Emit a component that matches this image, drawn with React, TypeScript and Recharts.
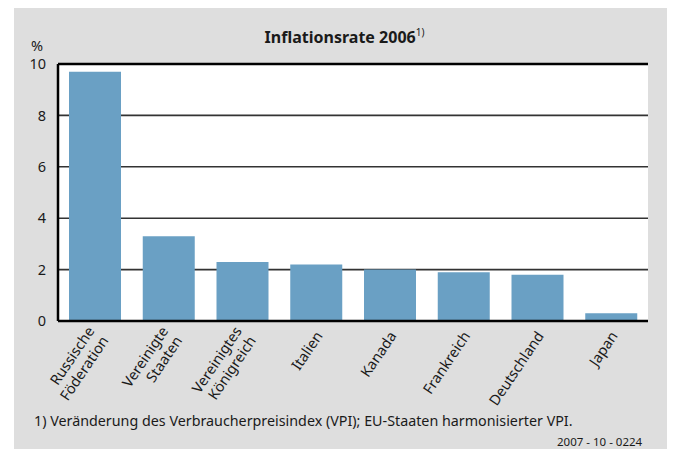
import React from "react";
import { BarChart, Bar, XAxis, YAxis, CartesianGrid, ReferenceLine } from "recharts";

const categories = [
  "Russische\nFöderation",
  "Vereinigte\nStaaten",
  "Vereinigtes\nKönigreich",
  "Italien",
  "Kanada",
  "Frankreich",
  "Deutschland",
  "Japan",
];
const inflation = [9.7, 3.3, 2.3, 2.2, 2.0, 1.9, 1.8, 0.3];
const yTicks = [0, 2, 4, 6, 8, 10];

const data = categories.map((c, i) => ({ name: c, value: inflation[i] }));

const FONT = "'Noto Sans', 'Open Sans', sans-serif";

const XTick = (props: any) => {
  const { x, y, payload } = props;
  const lines: string[] = String(payload.value).split("\n");
  const lh = 17;
  return (
    <g transform={`translate(${x + 3},${y + 4})`}>
      <text
        transform="rotate(-56)"
        textAnchor="end"
        fontSize={14.5}
        fontFamily={FONT}
        fill="#1a1a1a"
      >
        {lines.map((l, i) => (
          <tspan key={i} x={0} y={(i - (lines.length - 1) / 2) * lh + 5}>
            {l}
          </tspan>
        ))}
      </text>
    </g>
  );
};

export default function App() {
  return (
    <div
      style={{
        position: "relative",
        width: 675,
        height: 449,
        marginLeft: -8,
        marginTop: -8,
        background: "#ffffff",
        fontFamily: FONT,
        overflow: "hidden",
      }}
    >
      <div
        style={{
          position: "absolute",
          left: 14,
          top: 8,
          width: 661,
          height: 441,
          background: "#dedede",
        }}
      />
      <div
        style={{
          position: "absolute",
          left: 14,
          width: 661,
          top: 26,
          textAlign: "center",
          fontSize: 16,
          fontWeight: 700,
          color: "#1a1a1a",
        }}
      >
        Inflationsrate 2006
        <sup style={{ fontSize: 10, fontWeight: 400, verticalAlign: "top", position: "relative", top: -1 }}>1)</sup>
      </div>
      <div style={{ position: "absolute", left: 31, top: 38, fontSize: 14.5, lineHeight: 1, color: "#1a1a1a" }}>%</div>
      <div style={{ position: "absolute", left: 0, top: 0 }}>
        <BarChart
          width={675}
          height={449}
          data={data}
          margin={{ top: 64, right: 27, bottom: 48, left: 18 }}
        >
          <CartesianGrid
            horizontal={true}
            vertical={false}
            stroke="#333333"
            strokeWidth={1.6}
            fill="#ffffff"
            fillOpacity={1}
          />
          <XAxis
            dataKey="name"
            interval={0}
            height={80}
            tickLine={false}
            axisLine={{ stroke: "#000", strokeWidth: 2.5 }}
            tick={<XTick />}
          />
          <YAxis
            domain={[0, 10]}
            ticks={yTicks}
            width={40}
            tickLine={false}
            tickMargin={6}
            axisLine={{ stroke: "#000", strokeWidth: 2.5 }}
            tick={{ fontSize: 14.5, fill: "#1a1a1a", fontFamily: FONT }}
          />
          <YAxis
            yAxisId="r"
            orientation="right"
            domain={[0, 10]}
            width={0}
            tick={false}
            tickLine={false}
            axisLine={{ stroke: "#000", strokeWidth: 2.5 }}
          />
          <ReferenceLine y={10} stroke="#000" strokeWidth={2.5} />
          <Bar dataKey="value" fill="#6aa0c4" barSize={52} isAnimationActive={false} />
        </BarChart>
      </div>
      <div style={{ position: "absolute", left: 34, top: 411, fontSize: 14.3, color: "#1a1a1a", whiteSpace: "nowrap" }}>
        1) Veränderung des Verbraucherpreisindex (VPI); EU-Staaten harmonisierter VPI.
      </div>
      <div style={{ position: "absolute", left: 557, top: 434, fontSize: 11.5, color: "#1a1a1a", whiteSpace: "nowrap" }}>
        2007 - 10 - 0224
      </div>
    </div>
  );
}
